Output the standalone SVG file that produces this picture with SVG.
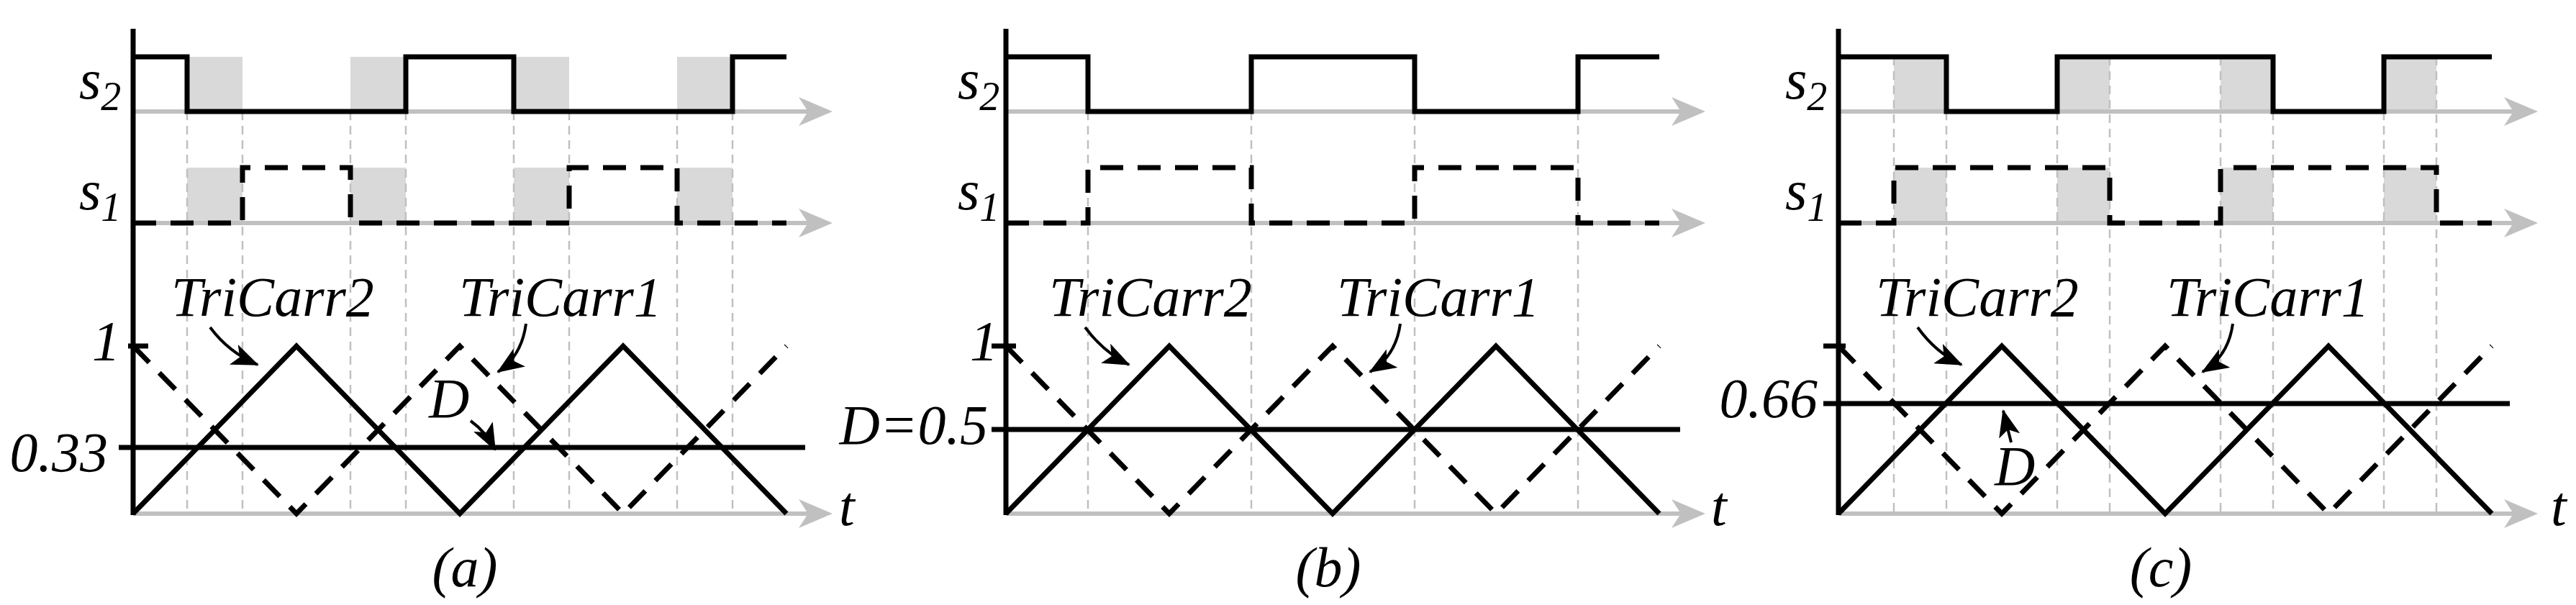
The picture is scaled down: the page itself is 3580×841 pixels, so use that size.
<svg xmlns="http://www.w3.org/2000/svg" width="3580" height="841" viewBox="0 0 3580 841">
<style>
.sh{fill:#d9d9d9}
.ax{stroke:#c0c0c0;stroke-width:6;fill:none}
.ah{fill:#c0c0c0}
.vg{stroke:#c0c0c0;stroke-width:2.5;stroke-dasharray:12 8;fill:none}
.k{stroke:#000;stroke-width:7;fill:none;stroke-linejoin:miter}
.kd{stroke:#000;stroke-width:7;fill:none;stroke-dasharray:32 20}
text{font-family:"Liberation Serif","DejaVu Serif",serif;font-style:italic;font-size:78px;fill:#000}
.sub{font-size:56px}
.ar{stroke:#000;stroke-width:4;fill:none;marker-end:url(#a)}
</style>
<defs>
<marker id="a" markerUnits="userSpaceOnUse" markerWidth="40" markerHeight="30" refX="36" refY="15" orient="auto"><path d="M0,0 L38,15 L0,30 L9,15 Z" fill="#000"/></marker>
<g id="gaxes">
<line class="ax" x1="0" y1="155" x2="940" y2="155"/><path class="ah" d="M925,135 L972,155 L925,175 L938,155 Z"/>
<line class="ax" x1="0" y1="310" x2="940" y2="310"/><path class="ah" d="M925,290 L972,310 L925,330 L938,310 Z"/>
<line class="ax" x1="0" y1="714" x2="940" y2="714"/><path class="ah" d="M925,694 L972,714 L925,734 L938,714 Z"/>
</g>
</defs>
<g id="panel-a">
<rect class="sh" x="260" y="79" width="77" height="76"/><rect class="sh" x="487" y="79" width="77" height="76"/><rect class="sh" x="714" y="79" width="77" height="76"/><rect class="sh" x="941" y="79" width="77" height="76"/>
<rect class="sh" x="260" y="233" width="77" height="77"/><rect class="sh" x="487" y="233" width="77" height="77"/><rect class="sh" x="714" y="233" width="77" height="77"/><rect class="sh" x="941" y="233" width="77" height="77"/>
<use href="#gaxes" x="185"/>
<path class="vg" d="M260,155V714M337,155V714M487,155V714M564,155V714M714,155V714M791,155V714M941,155V714M1018,155V714"/>
<line class="k" x1="185" y1="40" x2="185" y2="716"/>
<path class="k" d="M185,79H260V155H564V79H714V155H1018V79H1093"/>
<path class="kd" d="M185,310H337V233H487V310H791V233H941V310H1093"/>
<path class="k" d="M185,714L412,481L639,714L866,481L1093,714"/>
<path class="kd" d="M185,481L412,714L639,481L866,714L1093,481"/>
<line class="k" x1="165" y1="622" x2="1119" y2="622"/>
<line class="k" x1="178" y1="481" x2="206" y2="481"/>
<text x="110" y="137">s<tspan class="sub" dy="16">2</tspan></text>
<text x="110" y="291">s<tspan class="sub" dy="16">1</tspan></text>
<text x="128" y="500">1</text>
<text x="150" y="655" text-anchor="end">0.33</text>
<text x="238" y="439">TriCarr2</text>
<text x="638" y="439">TriCarr1</text>
<text x="596" y="580">D</text>
<text x="1166" y="730">t</text>
<text x="646" y="815" text-anchor="middle">(a)</text>
<path class="ar" d="M292,455 Q318,490 358,507"/>
<path class="ar" d="M731,450 Q725,495 692,517"/>
<path class="ar" d="M654,585 Q675,600 688,625"/>
</g>
<g id="panel-b">
<use href="#gaxes" x="1398"/>
<path class="vg" d="M1512,155V714M1739,155V714M1966,155V714M2193,155V714"/>
<line class="k" x1="1398" y1="40" x2="1398" y2="716"/>
<path class="k" d="M1398,79H1512V155H1739V79H1966V155H2193V79H2306"/>
<path class="kd" d="M1398,310H1512V233H1739V310H1966V233H2193V310H2306"/>
<path class="k" d="M1398,714L1625,481L1852,714L2079,481L2306,714"/>
<path class="kd" d="M1398,481L1625,714L1852,481L2079,714L2306,481"/>
<line class="k" x1="1378" y1="597" x2="2335" y2="597"/>
<line class="k" x1="1378" y1="481" x2="1412" y2="481"/>
<text x="1331" y="137">s<tspan class="sub" dy="16">2</tspan></text>
<text x="1331" y="291">s<tspan class="sub" dy="16">1</tspan></text>
<text x="1348" y="500">1</text>
<text x="1373" y="617" text-anchor="end">D=0.5</text>
<text x="1458" y="439">TriCarr2</text>
<text x="1858" y="439">TriCarr1</text>
<text x="2378" y="730">t</text>
<text x="1846" y="815" text-anchor="middle">(b)</text>
<path class="ar" d="M1508,455 Q1534,490 1569,507"/>
<path class="ar" d="M1946,450 Q1940,495 1904,517"/>
</g>
<g id="panel-c">
<rect class="sh" x="2632" y="79" width="73" height="76"/><rect class="sh" x="2859" y="79" width="73" height="76"/><rect class="sh" x="3086" y="79" width="73" height="76"/><rect class="sh" x="3313" y="79" width="73" height="76"/>
<rect class="sh" x="2632" y="233" width="73" height="77"/><rect class="sh" x="2859" y="233" width="73" height="77"/><rect class="sh" x="3086" y="233" width="73" height="77"/><rect class="sh" x="3313" y="233" width="73" height="77"/>
<use href="#gaxes" x="2555"/>
<path class="vg" d="M2632,79V714M2705,155V714M2859,155V714M2932,79V714M3086,79V714M3159,155V714M3313,155V714M3386,79V714"/>
<line class="k" x1="2555" y1="40" x2="2555" y2="716"/>
<path class="k" d="M2555,79H2705V155H2859V79H3159V155H3313V79H3463"/>
<path class="kd" d="M2555,310H2632V233H2932V310H3086V233H3386V310H3463"/>
<path class="k" d="M2555,714L2782,481L3009,714L3236,481L3463,714"/>
<path class="kd" d="M2555,481L2782,714L3009,481L3236,714L3463,481"/>
<line class="k" x1="2534" y1="561" x2="3488" y2="561"/>
<line class="k" x1="2534" y1="481" x2="2565" y2="481"/>
<text x="2481" y="137">s<tspan class="sub" dy="16">2</tspan></text>
<text x="2481" y="291">s<tspan class="sub" dy="16">1</tspan></text>
<text x="2526" y="580" text-anchor="end">0.66</text>
<text x="2607" y="439">TriCarr2</text>
<text x="3011" y="439">TriCarr1</text>
<text x="2772" y="674">D</text>
<text x="3545" y="730">t</text>
<text x="3003" y="815" text-anchor="middle">(c)</text>
<path class="ar" d="M2665,455 Q2690,490 2726,507"/>
<path class="ar" d="M3103,450 Q3097,495 3061,517"/>
<path class="ar" d="M2795,615 Q2790,595 2784,571"/>
</g>
</svg>
